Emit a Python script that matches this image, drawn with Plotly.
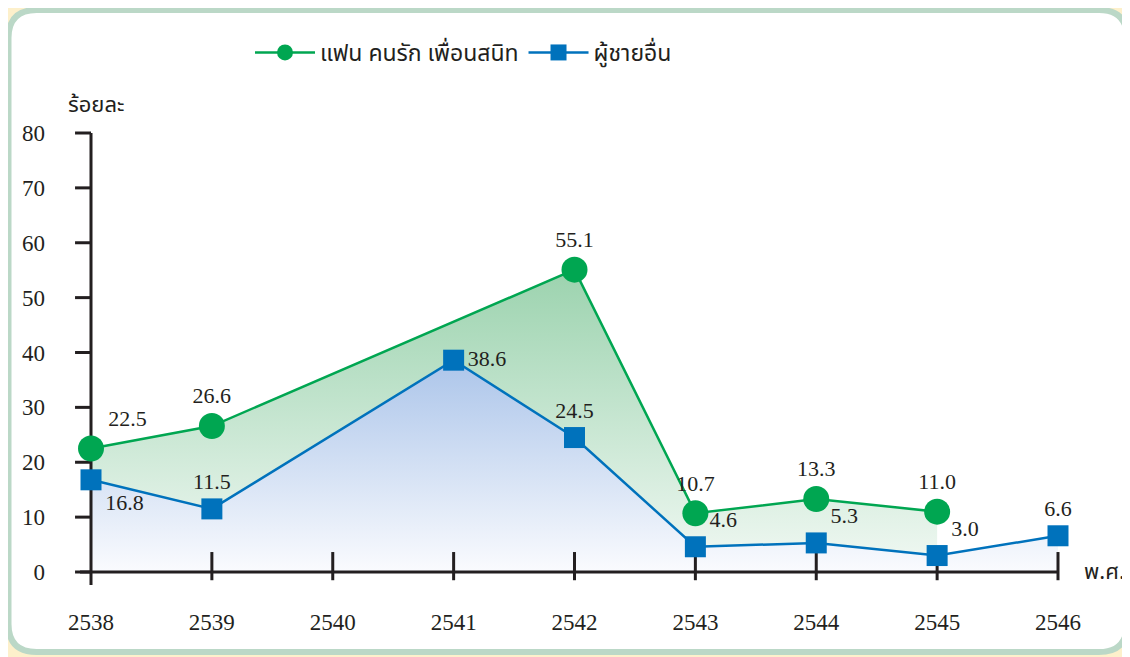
import plotly.graph_objects as go

# ---------------- data ----------------
years = [2538, 2539, 2540, 2541, 2542, 2543, 2544, 2545, 2546]
partner = [22.5, 26.6, None, None, 55.1, 10.7, 13.3, 11.0, None]   # แฟน คนรัก เพื่อนสนิท
others = [16.8, 11.5, None, 38.6, 24.5, 4.6, 5.3, 3.0, 6.6]        # ผู้ชายอื่น
y_ticks = [0, 10, 20, 30, 40, 50, 60, 70, 80]
series_names = ["แฟน คนรัก เพื่อนสนิท", "ผู้ชายอื่น"]
y_title = "ร้อยละ"
x_title = "พ.ศ."

# ---------------- styling ----------------
GREEN = "#00A651"
BLUE = "#0072BC"
INK = "#231F20"
NUM_FONT = "Liberation Serif, Times New Roman, serif"
THAI_FONT = "Noto Sans Thai, Loma, Garuda, Norasi, Noto Sans, sans-serif"

OFF = 8  # page body margin
W, H = 1130 - OFF, 657 - OFF
L, R, T, B = 58 - OFF, 55, 125 - OFF, 57
x_range = [2537.727, 2546.1406]
y_range = [-5.1025, 81.457]


def paper_x(px):
    return (px - OFF - L) / (W - L - R)


def paper_y(py):
    return (H - B - (py - OFF)) / (H - T - B)


gx = [x for x, v in zip(years, partner) if v is not None]
gy = [v for v in partner if v is not None]
bx = [x for x, v in zip(years, others) if v is not None]
by = [v for v in others if v is not None]

# polygon between the two series (green area)
poly_x = list(gx)
poly_y = list(gy)
for x, v in reversed(list(zip(bx, by))):
    if gx[0] <= x <= gx[-1]:
        poly_x.append(x)
        poly_y.append(v)
poly_x.append(gx[0])
poly_y.append(gy[0])

fig = go.Figure()

# blue area under the blue line
fig.add_trace(go.Scatter(
    x=bx, y=by, mode="lines", line=dict(width=0, color=BLUE),
    fill="tozeroy",
    fillgradient=dict(type="vertical", start=0, stop=40,
                      colorscale=[[0, "#FAFBFE"], [1, "#A9C3E9"]]),
    showlegend=False, hoverinfo="skip"))

# green area between the lines
fig.add_trace(go.Scatter(
    x=poly_x, y=poly_y, mode="lines", line=dict(width=0, color=GREEN),
    fill="toself",
    fillgradient=dict(type="vertical", start=0, stop=56,
                      colorscale=[[0, "#F2F9F4"], [1, "#9AD2AD"]]),
    showlegend=False, hoverinfo="skip"))

# axis lines and ticks (drawn beneath markers)
ax_x, ax_y = [], []
ax_x += [years[0], years[0], None]
ax_y += [y_ticks[-1], -2.37, None]
ax_x += [2537.909, years[-1], None]
ax_y += [0, 0, None]
for v in y_ticks:
    ax_x += [2537.868, years[0], None]
    ax_y += [v, v, None]
for yr in years[1:]:
    ax_x += [yr, yr, None]
    ax_y += [3.64, -1.5, None]
fig.add_trace(go.Scatter(
    x=ax_x, y=ax_y, mode="lines", line=dict(width=3, color=INK),
    showlegend=False, hoverinfo="skip"))

green_pos = ["top right"] + ["top center"] * (len(gx) - 1)
fig.add_trace(go.Scatter(
    x=gx, y=gy, name=series_names[0], mode="lines+markers+text",
    line=dict(color=GREEN, width=2.5),
    marker=dict(symbol="circle", size=26, color=GREEN),
    text=[f"{v:.1f}" for v in gy], textposition=green_pos,
    textfont=dict(family=NUM_FONT, size=22, color=INK),
    cliponaxis=False))

blue_pos = ["bottom right", "top center", "middle right", "top center",
            "top right", "top right", "top right", "top center"]
fig.add_trace(go.Scatter(
    x=bx, y=by, name=series_names[1], mode="lines+markers+text",
    line=dict(color=BLUE, width=2.5),
    marker=dict(symbol="square", size=21, color=BLUE),
    text=[f"{v:.1f}" for v in by], textposition=blue_pos,
    textfont=dict(family=NUM_FONT, size=22, color=INK),
    cliponaxis=False))

# rounded panel
x0, x1 = paper_x(8.5), paper_x(1127)
y0, y1 = paper_y(652), paper_y(10)
rx = 28 / (W - L - R)
ry = 28 / (H - T - B)
panel = (f"M {x0 + rx},{y1} L {x1 - rx},{y1} Q {x1},{y1} {x1},{y1 - ry} "
         f"L {x1},{y0 + ry} Q {x1},{y0} {x1 - rx},{y0} "
         f"L {x0 + rx},{y0} Q {x0},{y0} {x0},{y0 + ry} "
         f"L {x0},{y1 - ry} Q {x0},{y1} {x0 + rx},{y1} Z")

fig.update_layout(
    width=W, height=H,
    margin=dict(l=L, r=R, t=T, b=B),
    paper_bgcolor="#FDF0CB",
    plot_bgcolor="rgba(0,0,0,0)",
    shapes=[dict(type="path", path=panel, xref="paper", yref="paper",
                 fillcolor="white", line=dict(color="#BBD8C7", width=6),
                 layer="below")],
    xaxis=dict(range=x_range, tickvals=years, ticktext=[str(y) for y in years],
               showgrid=False, zeroline=False, showline=False, ticks="",
               tickfont=dict(family=NUM_FONT, size=23, color=INK),
               ticklabelstandoff=6, fixedrange=True),
    yaxis=dict(range=y_range, tickvals=y_ticks, ticktext=[str(v) for v in y_ticks],
               showgrid=False, zeroline=False, showline=False, ticks="",
               tickfont=dict(family=NUM_FONT, size=23, color=INK),
               ticklabelstandoff=12, fixedrange=True),
    legend=dict(orientation="h", x=paper_x(250), y=paper_y(31),
                xanchor="left", yanchor="top",
                font=dict(family=THAI_FONT, size=23, color=INK),
                bgcolor="rgba(0,0,0,0)", itemwidth=60),
    annotations=[
        dict(text=y_title, x=paper_x(66), y=paper_y(105), xref="paper", yref="paper",
             xanchor="left", yanchor="middle", showarrow=False,
             font=dict(family=THAI_FONT, size=22, color=INK)),
        dict(text=x_title, x=paper_x(1082), y=paper_y(572), xref="paper", yref="paper",
             xanchor="left", yanchor="middle", showarrow=False,
             font=dict(family=THAI_FONT, size=22, color=INK)),
    ],
    showlegend=True,
)

fig.write_html("out.html")
